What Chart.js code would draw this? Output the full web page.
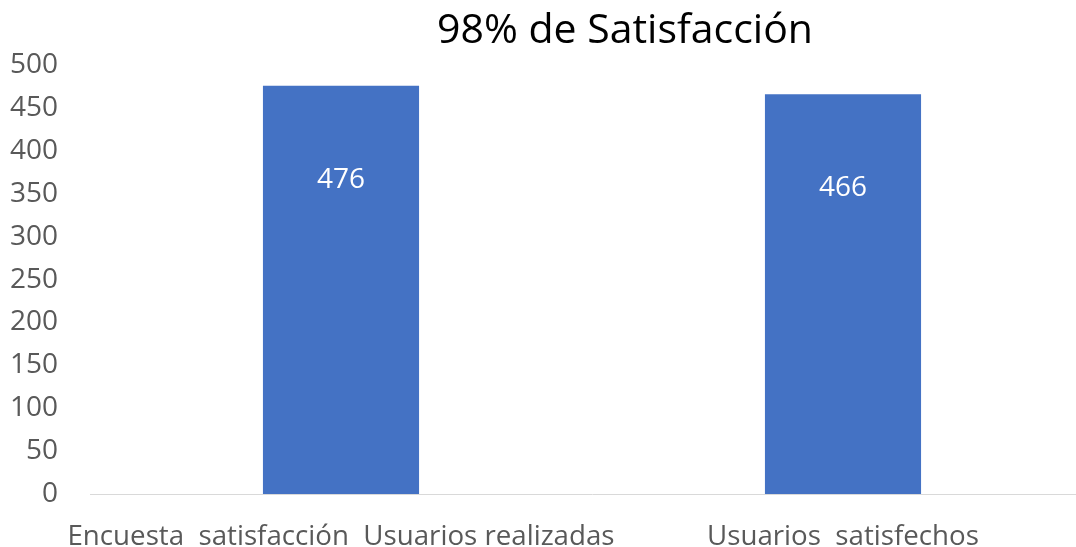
<!DOCTYPE html>
<html>
<head>
<meta charset="utf-8">
<script src="https://cdn.jsdelivr.net/npm/chart.js@4/dist/chart.umd.min.js"></script>
<style>
  html, body { margin: 0; padding: 0; background: #fff; overflow: hidden; }
  #wrap { width: 1250px; height: 547px; }
</style>
</head>
<body>
<div id="wrap"><canvas id="grafico" width="1250" height="547"></canvas></div>
<script>
const categorias = ['Encuesta  satisfacción  Usuarios realizadas', 'Usuarios  satisfechos'];
const valores = [476, 466];
const ticksY = [0, 50, 100, 150, 200, 250, 300, 350, 400, 450, 500];

// etiquetas blancas dentro de la barra
const etiquetasBarras = {
    id: 'etiquetasBarras',
    afterDatasetsDraw(chart) {
        const ctx = chart.ctx;
        const meta = chart.getDatasetMeta(0);
        ctx.save();
        ctx.fillStyle = '#ffffff';
        ctx.font = '28px "Open Sans"';
        ctx.textAlign = 'center';
        ctx.textBaseline = 'middle';
        meta.data.forEach(function (bar, i) {
            ctx.fillText(valores[i], bar.x, bar.y + 94);
        });
        ctx.restore();
    }
};

// el titulo va centrado sobre todo el lienzo, no solo sobre el area del grafico
const centrarTitulo = {
    id: 'centrarTitulo',
    afterLayout(chart) {
        const t = chart.titleBlock;
        if (!t) return;
        t.left = 0;
        t.right = chart.width;
        t.width = chart.width;
    }
};

const data = {
    labels: categorias,
    datasets: [{
        data: valores,
        backgroundColor: '#4472C4',
        borderWidth: 0,
        barPercentage: 0.311,
        categoryPercentage: 1
    }]
};

const config = {
    type: 'bar',
    data: data,
    options: {
        responsive: false,
        animation: false,
        layout: { padding: { left: 0, right: 156, top: 0, bottom: 0 } },
        plugins: {
            legend: { display: false },
            tooltip: { enabled: false },
            title: {
                display: true,
                text: '98% de Satisfacción',
                color: '#000000',
                font: { family: 'Open Sans', size: 41, weight: 'normal' },
                padding: { top: 7, bottom: 9 }
            }
        },
        scales: {
            x: {
                grid: { display: false, drawTicks: false },
                border: { display: true, color: '#d9d9d9', width: 1 },
                ticks: {
                    color: '#595959',
                    font: { family: 'Open Sans', size: 27.7 },
                    padding: 26,
                    maxRotation: 0,
                    autoSkip: false
                },
                afterFit: function (scale) { scale.height = 53; }
            },
            y: {
                min: 0,
                max: 500,
                afterBuildTicks: function (scale) {
                    scale.ticks = ticksY.map(v => ({ value: v }));
                },
                grid: { display: false, drawTicks: false },
                border: { display: false },
                ticks: {
                    color: '#595959',
                    font: { family: 'Open Sans', size: 28 },
                    padding: 32
                },
                afterFit: function (scale) { scale.width = 90; }
            }
        }
    },
    plugins: [etiquetasBarras, centrarTitulo]
};

var canvas = document.getElementById('grafico');
const chart = new Chart(canvas, config);
</script>
</body>
</html>
